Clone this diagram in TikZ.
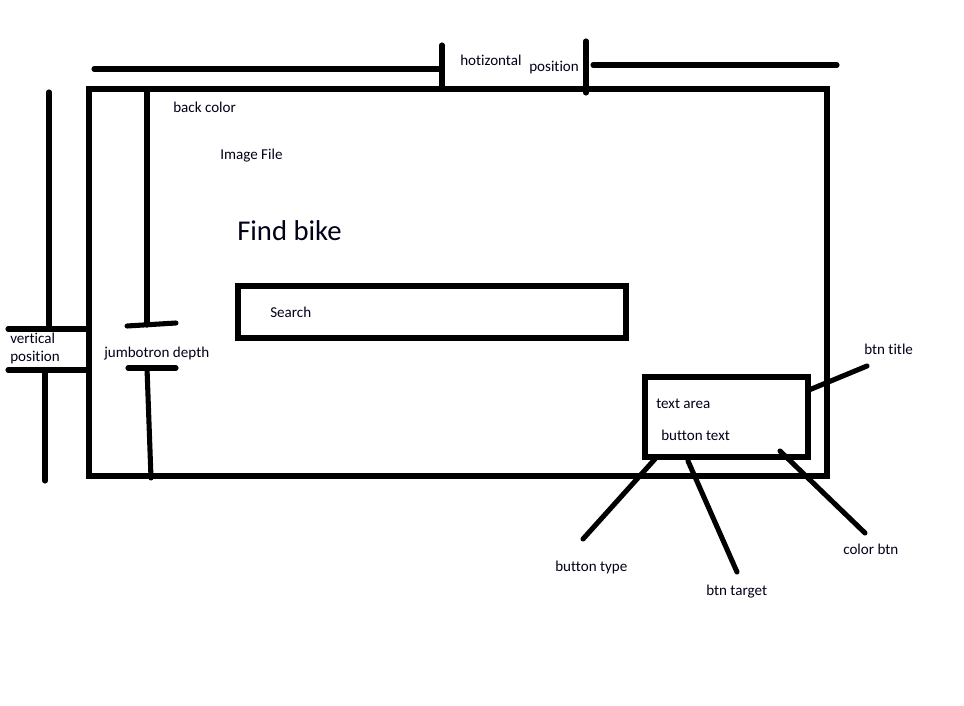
\documentclass[tikz,border=0pt]{standalone}
\usepackage{fontspec}
\setmainfont{Carlito}[Ligatures={NoCommon,NoRequired}]
\newcommand{\nolig}{\kern0pt{}}
\begin{document}
\begin{tikzpicture}[x=0.75pt,y=-0.75pt,
  stroke/.style={line width=3.8pt,line cap=round,line join=miter},
  lbl/.style={anchor=base west,inner sep=0pt,font=\fontsize{11.3}{13}\selectfont,text=black!90!blue},
  big/.style={anchor=base west,inner sep=0pt,font=\fontsize{21.5}{25}\selectfont,text=black!90!blue}]
\useasboundingbox[fill=white] (0,0) rectangle (964,706);
% main jumbotron frame
\draw[stroke] (89,89) rectangle (827,476);
% horizontal position
\coordinate (hl1) at (94,69);
\coordinate (hl2) at (442,69);
\coordinate (ht1) at (442,45);
\coordinate (ht2) at (442,88);
\coordinate (hr0) at (586,41);
\coordinate (hr3) at (586,93);
\coordinate (hr1) at (593,65);
\coordinate (hr2) at (837,65);
\draw[stroke] (hl1) -- (hl2);
\draw[stroke] (ht1) -- (ht2);
\draw[stroke] (hr0) -- (hr3);
\draw[stroke] (hr1) -- (hr2);
\node[lbl] (hot) at (460,66) {hot\nolig izontal};
\node[lbl] (hpos) at (529,72) {posit\nolig ion};
% vertical position
\coordinate (v1) at (49,92);
\coordinate (v2) at (49,329);
\coordinate (va1) at (8,329);
\coordinate (va2) at (87,329);
\coordinate (vb1) at (8,370);
\coordinate (vb2) at (86,370);
\coordinate (v3) at (45,370);
\coordinate (v4) at (45,481);
\draw[stroke] (v1) -- (v2);
\draw[stroke] (va1) -- (va2);
\draw[stroke] (vb1) -- (vb2);
\draw[stroke] (v3) -- (v4);
\node[lbl] (vpos1) at (10,343) {vert\nolig ical};
\node[lbl] (vpos2) at (10,361) {posit\nolig ion};
% jumbotron depth
\coordinate (j1) at (147,90);
\coordinate (j2) at (147,325);
\coordinate (jt1) at (127,326);
\coordinate (jt2) at (176,323);
\coordinate (jb1) at (128,368);
\coordinate (jb2) at (176,368);
\coordinate (j3) at (147,368);
\coordinate (j4) at (151,478);
\draw[stroke] (j1) -- (j2);
\draw[stroke] (jt1) -- (jt2);
\draw[stroke] (jb1) -- (jb2);
\draw[stroke] (j3) -- (j4);
\node[lbl] (jd) at (104,357) {jumbotron depth};
% texts
\node[lbl] (bc) at (173,113) {back color};
\node[lbl] (img) at (220,160) {Image File};
\node[big] (fb) at (237,240) {Find bike};
% search box
\draw[stroke] (238,286) rectangle (626,338);
\node[lbl] (search) at (270,317) {Search};
% button box
\draw[stroke] (645,377) rectangle (808,457);
\node[lbl] (ta) at (656,408) {text area};
\node[lbl] (bt) at (661,440) {button text};
% leaders
\coordinate (t1) at (809,390);
\coordinate (t2) at (867,366);
\draw[stroke] (t1) -- (t2);
\node[lbl] (btitle) at (864,354) {btn title};
\coordinate (b1) at (655,459);
\coordinate (b2) at (583,539);
\draw[stroke] (b1) -- (b2);
\node[lbl] (btype) at (555,571) {button type};
\coordinate (g1) at (688,461);
\coordinate (g2) at (737,572);
\draw[stroke] (g1) -- (g2);
\node[lbl] (btarget) at (706,595) {btn target};
\coordinate (c1) at (780,451);
\coordinate (c2) at (865,533);
\draw[stroke] (c1) -- (c2);
\node[lbl] (cbtn) at (843,554) {color btn};
\end{tikzpicture}
\end{document}
